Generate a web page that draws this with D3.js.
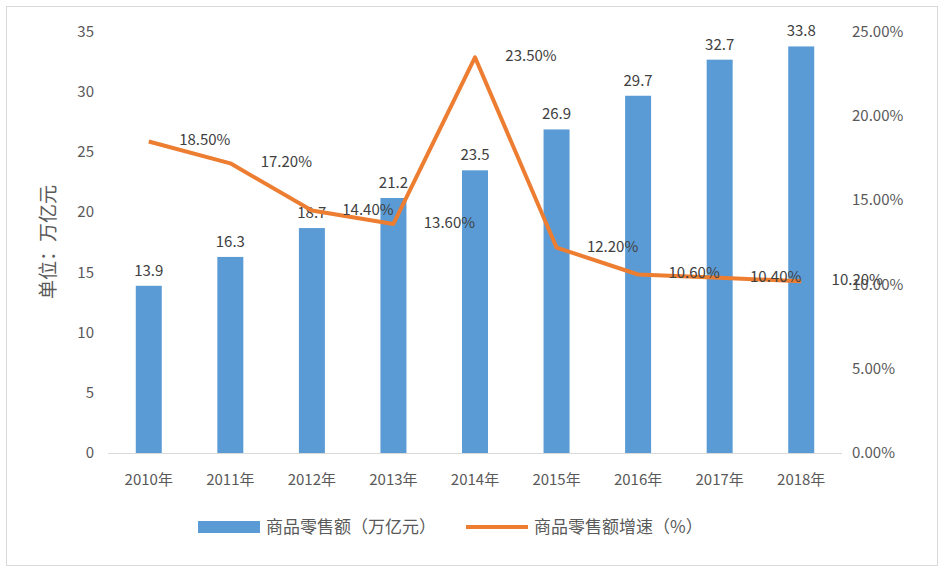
<!DOCTYPE html>
<html><head><meta charset="utf-8">
<script src="https://cdn.jsdelivr.net/npm/d3@7"></script>
<style>body{margin:0;background:#fff}text{font-family:"Noto Sans CJK SC","DejaVu Sans",sans-serif}</style>
</head><body><svg id="c" width="944" height="573"></svg>
<script>
const years = ["2010年","2011年","2012年","2013年","2014年","2015年","2016年","2017年","2018年"];
const sales = [13.9,16.3,18.7,21.2,23.5,26.9,29.7,32.7,33.8];
const growth = [18.5,17.2,14.4,13.6,23.5,12.2,10.6,10.4,10.2];
const leftTicks = [0,5,10,15,20,25,30,35];
const rightTicks = [0,5,10,15,20,25];

const svg = d3.select("#c");
svg.append("rect").attr("x",6.5).attr("y",6.5).attr("width",931).attr("height",559)
  .attr("fill","none").attr("stroke","#d9d9d9");

const x = d3.scaleBand().domain(years).range([108,842]);
const y = d3.scaleLinear().domain([0,35]).range([453,32]);
const y2 = d3.scaleLinear().domain([0,25]).range([453,32]);
const txt = "#595959";

svg.append("line").attr("x1",108).attr("x2",842).attr("y1",453.5).attr("y2",453.5).attr("stroke","#d9d9d9");

leftTicks.forEach(t => svg.append("text").attr("x",94).attr("y",y(t)+5).attr("text-anchor","end")
  .attr("font-size",15).attr("fill",txt).text(t));
rightTicks.forEach(t => svg.append("text").attr("x",852).attr("y",y2(t)+5)
  .attr("font-size",15).attr("fill",txt).text(t.toFixed(2)+"%"));
years.forEach(c => svg.append("text").attr("x",x(c)+x.bandwidth()/2).attr("y",485).attr("text-anchor","middle")
  .attr("font-size",15).attr("fill",txt).text(c));
svg.append("text").attr("transform","translate(55,242) rotate(-90)").attr("text-anchor","middle")
  .attr("font-size",19).attr("fill",txt).text("单位：万亿元");

const bw = 26;
svg.selectAll(".bar").data(sales).join("rect")
  .attr("x",(d,i)=>x(years[i])+x.bandwidth()/2-bw/2).attr("width",bw)
  .attr("y",d=>y(d)).attr("height",d=>453-y(d)).attr("fill","#5b9bd5");
svg.selectAll(".bl").data(sales).join("text")
  .attr("x",(d,i)=>x(years[i])+x.bandwidth()/2).attr("y",d=>y(d)-10).attr("text-anchor","middle")
  .attr("font-size",15).attr("fill","#404040").text(d=>d);

const line = d3.line().x((d,i)=>x(years[i])+x.bandwidth()/2).y(d=>y2(d));
svg.append("path").datum(growth).attr("d",line).attr("fill","none")
  .attr("stroke","#ed7d31").attr("stroke-width",4).attr("stroke-linejoin","round");
svg.selectAll(".gl").data(growth).join("text")
  .attr("x",(d,i)=>x(years[i])+x.bandwidth()/2+56).attr("y",d=>y2(d)+4).attr("text-anchor","middle")
  .attr("font-size",15).attr("fill","#404040").text(d=>d.toFixed(2)+"%");

const lg = svg.append("g");
lg.append("rect").attr("x",198).attr("y",521).attr("width",62).attr("height",12).attr("fill","#5b9bd5");
lg.append("text").attr("x",266).attr("y",533).attr("font-size",17).attr("fill",txt).text("商品零售额（万亿元）");
lg.append("line").attr("x1",466).attr("x2",528).attr("y1",527).attr("y2",527).attr("stroke","#ed7d31").attr("stroke-width",4);
lg.append("text").attr("x",534).attr("y",533).attr("font-size",17).attr("fill",txt).text("商品零售额增速（%）");
</script></body></html>
